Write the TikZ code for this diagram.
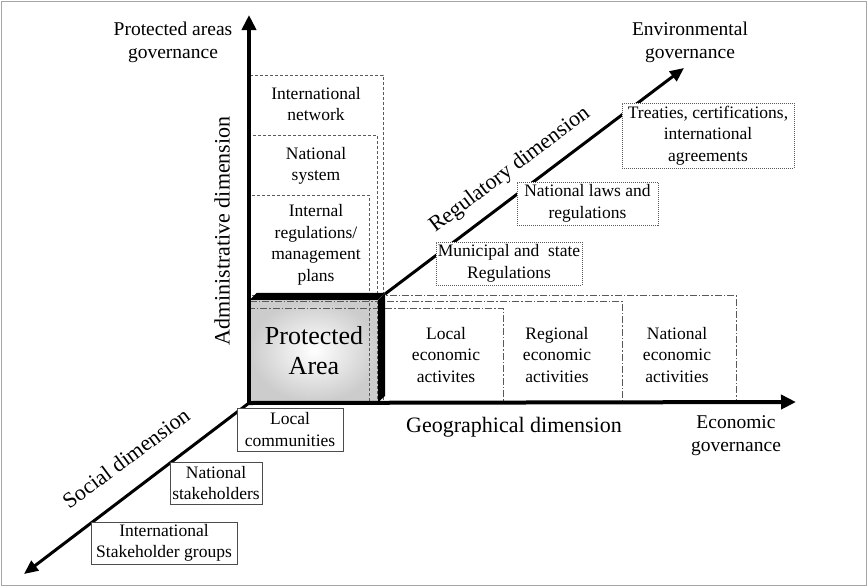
\documentclass[tikz,border=0pt]{standalone}
\usepackage{fontspec}
\setmainfont{Liberation Serif}
\usetikzlibrary{arrows.meta}

\begin{document}
\begin{tikzpicture}[x=1pt,y=-1pt,
	boxtext/.style={align=center,font=\fontsize{17.5}{21.5}\selectfont},
	govlabel/.style={align=center,font=\fontsize{19.5}{23}\selectfont},
	dimlabel/.style={font=\fontsize{22}{26}\selectfont},
	mainaxis/.style={line width=4pt,-{Triangle[length=15pt,width=14pt]}},
	sideaxis/.style={line width=3pt,-{Triangle[length=14pt,width=12pt]}},
	admbox/.style={draw=gray!70!black,line width=0.8pt,dash pattern=on 3pt off 2pt},
	ecobox/.style={draw=gray!70!black,line width=0.8pt,dash pattern=on 7pt off 2pt on 1.5pt off 2pt},
	regbox/.style={boxtext,draw=gray!70!black,fill=white,line width=0.8pt,dash pattern=on 1pt off 1pt,inner sep=0pt},
	socbox/.style={boxtext,draw=gray!60!black,fill=white,line width=0.9pt,inner sep=0pt}]
			\useasboundingbox (0,0) rectangle (868,587);
			\draw[gray!70,line width=1.5pt] (1.5,1.5) rectangle (866.5,585.5);
			
			% protected area
			\node[inner color=white,outer color=gray!40,minimum width=128pt,minimum height=102pt,inner sep=0pt,align=center,font=\fontsize{26}{30}\selectfont] (pa) at (314,351) {Protected\\Area};
			
			% administrative levels
			\draw[admbox] (250,75) rectangle (383,401);
			\draw[admbox] (250,135) rectangle (377,401);
			\draw[admbox] (250,195) rectangle (369,401);
			\node[boxtext] (intnet) at (316,104) {International\\network};
			\node[boxtext] (natsys) at (316,166) {National\\system};
			\node[boxtext] (intreg) at (316,245) {Internal\\regulations/\\management\\plans};
			
			% economic levels
			\draw[ecobox] (250,295) rectangle (736,401);
			\draw[ecobox] (250,301) rectangle (622,401);
			\draw[ecobox] (250,308) rectangle (503,401);
			\node[boxtext] (locecon) at (446,355) {Local\\economic\\activites};
			\node[boxtext] (regecon) at (557,355) {Regional\\economic\\activities};
			\node[boxtext] (natecon) at (677,355) {National\\economic\\activities};
			
			\fill (pa.north west) -- ++(7,-7) -- ++(128,0) -- (pa.north east) -- cycle;
			\fill (pa.north east) -- ++(7,-7) -- ++(0,103) -- (pa.south east) -- cycle;
			
			% axes
			\coordinate (O) at (249,403);
			\coordinate (admtop) at (249,15);
			\coordinate (geoend) at (796,402);
			\coordinate (socend) at (24,574);
			\coordinate (regstart) at (385,294);
			\coordinate (regend) at (684,68);
			\draw[mainaxis] (O) -- (admtop);
			\draw[mainaxis] (O) -- (geoend);
			\draw[sideaxis] (O) -- (socend);
			\draw[sideaxis] (regstart) -- (regend);
			
			\node[regbox,minimum width=146pt,minimum height=43pt] (munic) at (509,263.5) {Municipal and~~state\\Regulations};
			\node[regbox,minimum width=141pt,minimum height=43pt] (natlaws) at (587.5,203.5) {National laws and\\regulations};
			\node[regbox,minimum width=172pt,minimum height=65pt] (treaties) at (708,135.5) {Treaties, certifications,\\international\\agreements};
			
			\node[socbox,minimum width=106pt,minimum height=43pt] (loccom) at (290,429.5) {Local\\communities};
			\node[socbox,minimum width=92pt,minimum height=42pt] (natstake) at (216,483) {National\\stakeholders};
			\node[socbox,minimum width=146pt,minimum height=42pt] (intstake) at (164,543) {International\\Stakeholder groups};
			
			% labels
			\node[govlabel] (pagov) at (173,42) {Protected areas\\governance};
			\node[govlabel] (envgov) at (690,42) {Environmental\\governance};
			\node[govlabel] (ecogov) at (736,436) {Economic\\governance};
			\node[dimlabel,rotate=90] (admlab) at (222,231) {Administrative dimension};
			\node[dimlabel] (geolab) at (514,427) {Geographical dimension};
			\node[dimlabel,rotate=37] (reglab) at (510,170) {Regulatory dimension};
			\node[dimlabel,rotate=36.6] (soclab) at (126,458) {Social dimension};
		\end{tikzpicture}
\end{document}
